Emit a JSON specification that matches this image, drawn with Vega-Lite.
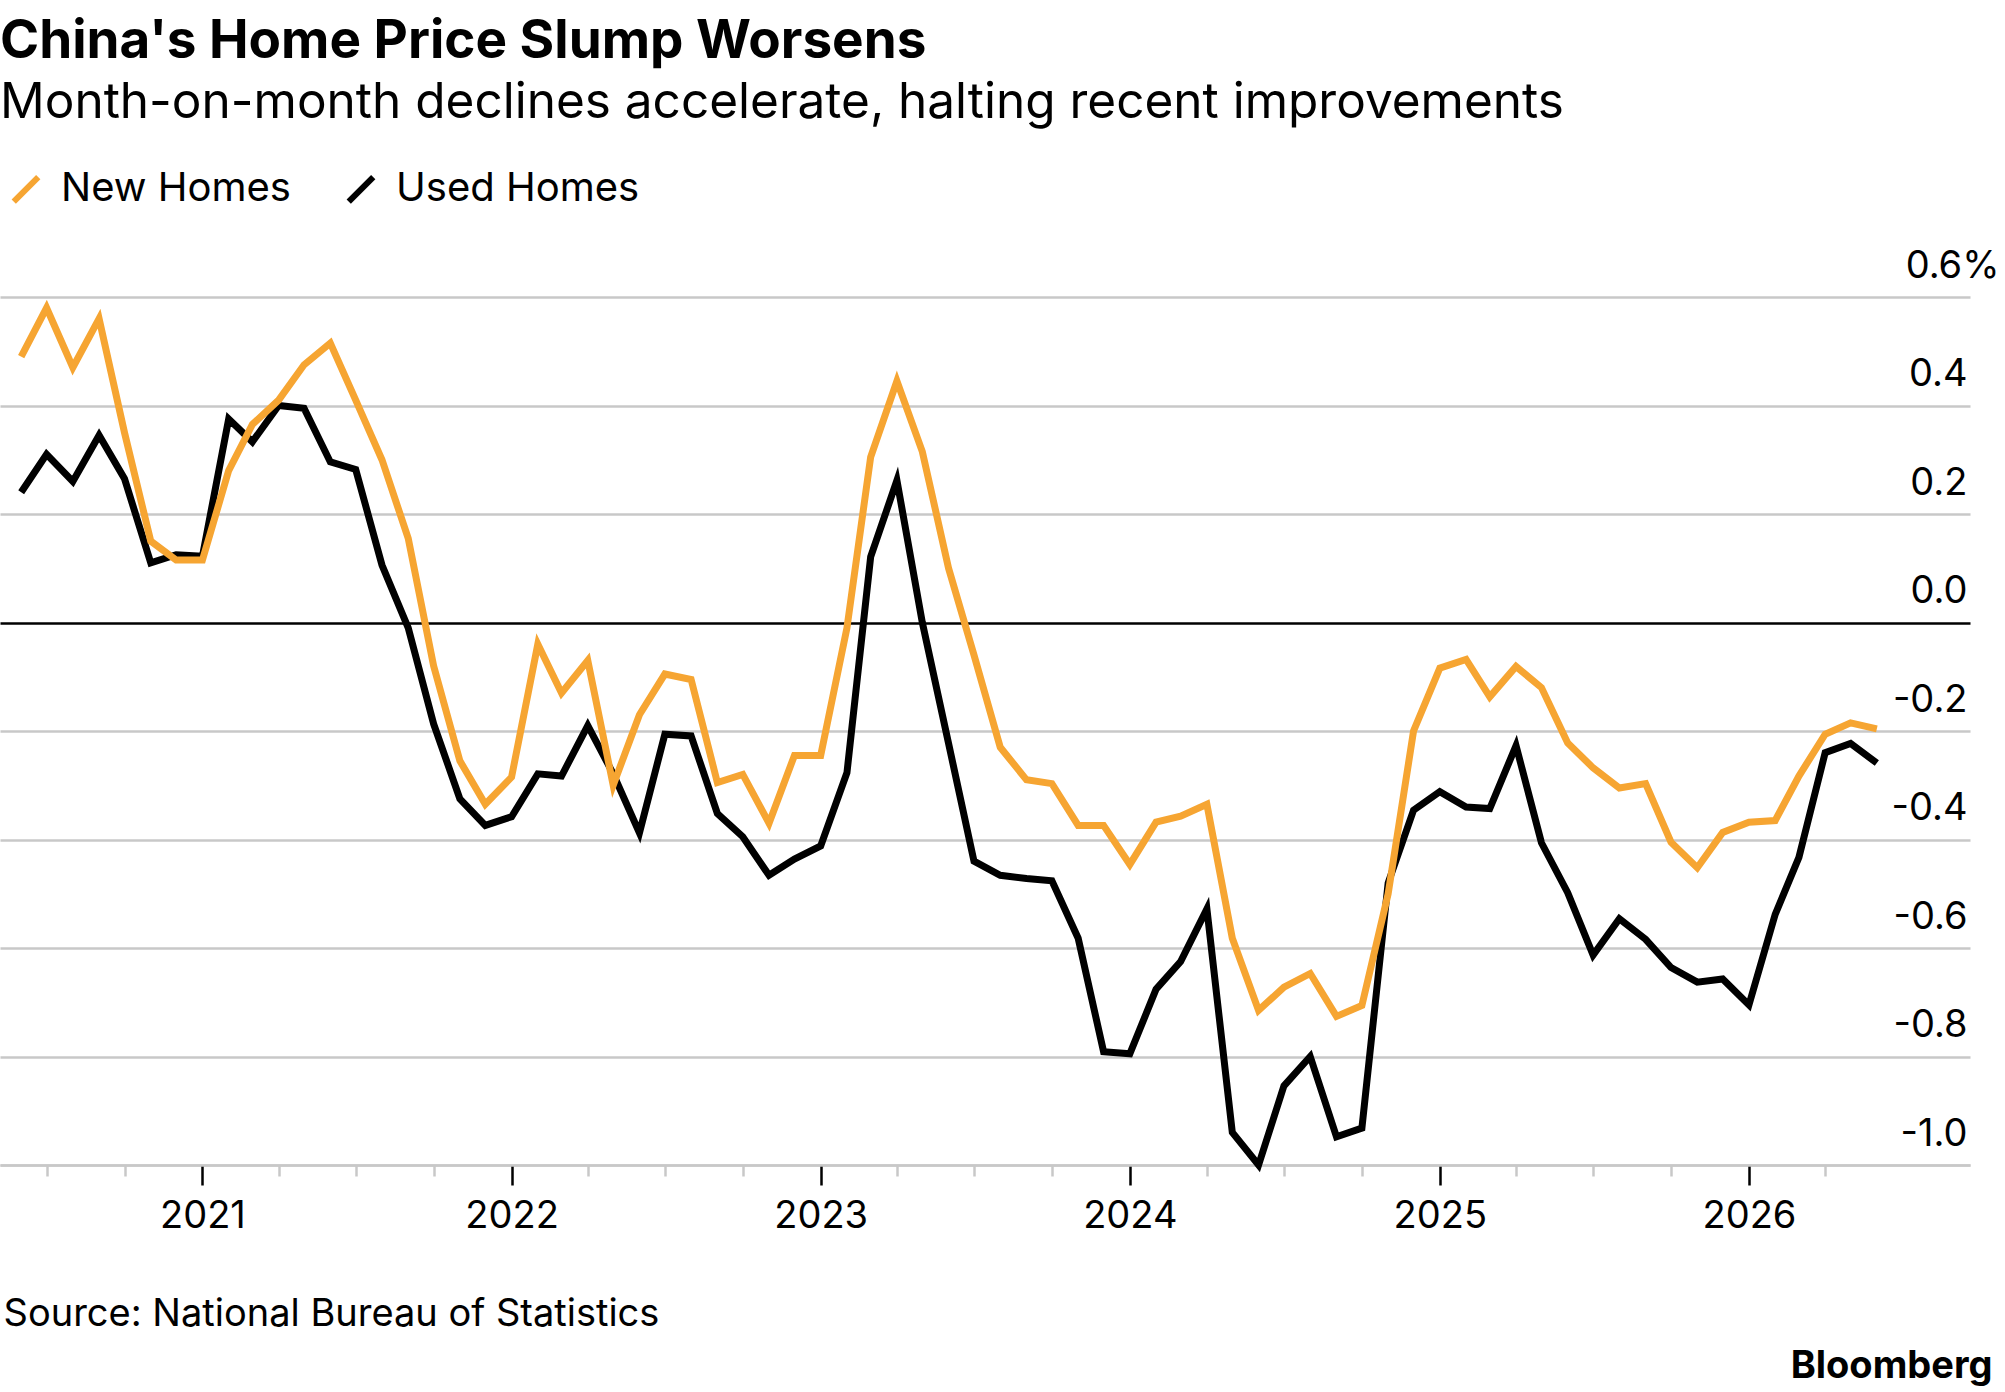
{
  "$schema": "https://vega.github.io/schema/vega-lite/v6.json",
  "width": 1970,
  "height": 868,
  "autosize": {"type": "none"},
  "padding": {"left": 0, "top": 297, "right": 35, "bottom": 227},
  "background": "white",
  "config": {
    "font": "Inter",
    "view": {"stroke": null}
  },
  "title": {
    "text": "China's Home Price Slump Worsens",
    "subtitle": "Month-on-month declines accelerate, halting recent improvements",
    "anchor": "start",
    "frame": "group",
    "orient": "top",
    "offset": 42,
    "fontSize": 53,
    "fontWeight": "bold",
    "color": "#000000",
    "subtitleFontSize": 49.5,
    "subtitleColor": "#000000",
    "subtitlePadding": 10
  },
  "data": {
    "values": [
      {"date": "2020-06-01", "new": 0.49, "used": 0.24},
      {"date": "2020-07-01", "new": 0.58, "used": 0.31},
      {"date": "2020-08-01", "new": 0.47, "used": 0.26},
      {"date": "2020-09-01", "new": 0.56, "used": 0.345},
      {"date": "2020-10-01", "new": 0.35, "used": 0.265},
      {"date": "2020-11-01", "new": 0.15, "used": 0.11},
      {"date": "2020-12-01", "new": 0.115, "used": 0.125},
      {"date": "2021-01-01", "new": 0.115, "used": 0.122},
      {"date": "2021-02-01", "new": 0.28, "used": 0.375},
      {"date": "2021-03-01", "new": 0.365, "used": 0.333},
      {"date": "2021-04-01", "new": 0.41, "used": 0.4},
      {"date": "2021-05-01", "new": 0.475, "used": 0.395},
      {"date": "2021-06-01", "new": 0.515, "used": 0.296},
      {"date": "2021-07-01", "new": 0.41, "used": 0.282},
      {"date": "2021-08-01", "new": 0.3, "used": 0.106},
      {"date": "2021-09-01", "new": 0.155, "used": -0.01},
      {"date": "2021-10-01", "new": -0.08, "used": -0.187},
      {"date": "2021-11-01", "new": -0.255, "used": -0.325},
      {"date": "2021-12-01", "new": -0.335, "used": -0.374},
      {"date": "2022-01-01", "new": -0.285, "used": -0.358},
      {"date": "2022-02-01", "new": -0.04, "used": -0.279},
      {"date": "2022-03-01", "new": -0.13, "used": -0.283},
      {"date": "2022-04-01", "new": -0.07, "used": -0.19},
      {"date": "2022-05-01", "new": -0.3, "used": -0.279},
      {"date": "2022-06-01", "new": -0.17, "used": -0.388},
      {"date": "2022-07-01", "new": -0.095, "used": -0.206},
      {"date": "2022-08-01", "new": -0.105, "used": -0.209},
      {"date": "2022-09-01", "new": -0.295, "used": -0.352},
      {"date": "2022-10-01", "new": -0.28, "used": -0.395},
      {"date": "2022-11-01", "new": -0.37, "used": -0.466},
      {"date": "2022-12-01", "new": -0.245, "used": -0.436},
      {"date": "2023-01-01", "new": -0.245, "used": -0.412},
      {"date": "2023-02-01", "new": -0.01, "used": -0.277},
      {"date": "2023-03-01", "new": 0.305, "used": 0.121},
      {"date": "2023-04-01", "new": 0.445, "used": 0.262},
      {"date": "2023-05-01", "new": 0.315, "used": 0.0},
      {"date": "2023-06-01", "new": 0.1, "used": -0.223},
      {"date": "2023-07-01", "new": -0.06, "used": -0.44},
      {"date": "2023-08-01", "new": -0.23, "used": -0.466},
      {"date": "2023-09-01", "new": -0.29, "used": -0.472},
      {"date": "2023-10-01", "new": -0.297, "used": -0.476},
      {"date": "2023-11-01", "new": -0.374, "used": -0.582},
      {"date": "2023-12-01", "new": -0.374, "used": -0.791},
      {"date": "2024-01-01", "new": -0.446, "used": -0.795},
      {"date": "2024-02-01", "new": -0.368, "used": -0.676},
      {"date": "2024-03-01", "new": -0.357, "used": -0.625},
      {"date": "2024-04-01", "new": -0.335, "used": -0.528},
      {"date": "2024-05-01", "new": -0.582, "used": -0.94},
      {"date": "2024-06-01", "new": -0.715, "used": -1.0},
      {"date": "2024-07-01", "new": -0.672, "used": -0.854},
      {"date": "2024-08-01", "new": -0.647, "used": -0.8},
      {"date": "2024-09-01", "new": -0.726, "used": -0.948},
      {"date": "2024-10-01", "new": -0.706, "used": -0.932},
      {"date": "2024-11-01", "new": -0.5, "used": -0.48},
      {"date": "2024-12-01", "new": -0.2, "used": -0.346},
      {"date": "2025-01-01", "new": -0.084, "used": -0.312},
      {"date": "2025-02-01", "new": -0.068, "used": -0.34},
      {"date": "2025-03-01", "new": -0.137, "used": -0.343},
      {"date": "2025-04-01", "new": -0.081, "used": -0.227},
      {"date": "2025-05-01", "new": -0.12, "used": -0.406},
      {"date": "2025-06-01", "new": -0.222, "used": -0.498},
      {"date": "2025-07-01", "new": -0.268, "used": -0.613},
      {"date": "2025-08-01", "new": -0.305, "used": -0.546},
      {"date": "2025-09-01", "new": -0.297, "used": -0.584},
      {"date": "2025-10-01", "new": -0.405, "used": -0.636},
      {"date": "2025-11-01", "new": -0.452, "used": -0.663},
      {"date": "2025-12-01", "new": -0.387, "used": -0.657},
      {"date": "2026-01-01", "new": -0.368, "used": -0.705},
      {"date": "2026-02-01", "new": -0.365, "used": -0.538},
      {"date": "2026-03-01", "new": -0.283, "used": -0.433},
      {"date": "2026-04-01", "new": -0.206, "used": -0.24},
      {"date": "2026-05-01", "new": -0.185, "used": -0.223},
      {"date": "2026-06-01", "new": -0.196, "used": -0.259}
    ]
  },
  "transform": [
    {"fold": ["used", "new"], "as": ["key", "value"]},
    {"lookup": "key", "from": {"data": {"values": [{"key": "new", "series": "New Homes"}, {"key": "used", "series": "Used Homes"}]}, "key": "key", "fields": ["series"]}}
  ],
  "encoding": {
    "x": {
      "field": "date",
      "type": "temporal",
      "scale": {
        "type": "utc",
        "domain": [
          {"year": 2020, "month": 5, "date": 7, "utc": true},
          {"year": 2026, "month": 9, "date": 19, "utc": true}
        ]
      },
      "axis": {
        "values": [
          {"year": 2020, "month": 7, "date": 1, "utc": true},
          {"year": 2020, "month": 10, "date": 1, "utc": true},
          {"year": 2021, "month": 1, "date": 1, "utc": true},
          {"year": 2021, "month": 4, "date": 1, "utc": true},
          {"year": 2021, "month": 7, "date": 1, "utc": true},
          {"year": 2021, "month": 10, "date": 1, "utc": true},
          {"year": 2022, "month": 1, "date": 1, "utc": true},
          {"year": 2022, "month": 4, "date": 1, "utc": true},
          {"year": 2022, "month": 7, "date": 1, "utc": true},
          {"year": 2022, "month": 10, "date": 1, "utc": true},
          {"year": 2023, "month": 1, "date": 1, "utc": true},
          {"year": 2023, "month": 4, "date": 1, "utc": true},
          {"year": 2023, "month": 7, "date": 1, "utc": true},
          {"year": 2023, "month": 10, "date": 1, "utc": true},
          {"year": 2024, "month": 1, "date": 1, "utc": true},
          {"year": 2024, "month": 4, "date": 1, "utc": true},
          {"year": 2024, "month": 7, "date": 1, "utc": true},
          {"year": 2024, "month": 10, "date": 1, "utc": true},
          {"year": 2025, "month": 1, "date": 1, "utc": true},
          {"year": 2025, "month": 4, "date": 1, "utc": true},
          {"year": 2025, "month": 7, "date": 1, "utc": true},
          {"year": 2025, "month": 10, "date": 1, "utc": true},
          {"year": 2026, "month": 1, "date": 1, "utc": true},
          {"year": 2026, "month": 4, "date": 1, "utc": true}
        ],
        "labelExpr": "utcmonth(datum.value) == 0 ? utcFormat(datum.value, '%Y') : ''",
        "labelFontSize": 38,
        "labelColor": "#000000",
        "labelPadding": 12,
        "labelOverlap": false,
        "labelFlush": false,
        "grid": false,
        "domainColor": "#c8c8c8",
        "domainWidth": 2.5,
        "tickColor": {"condition": {"test": "utcmonth(datum.value) == 0", "value": "#000000"}, "value": "#c8c8c8"},
        "tickSize": {"condition": {"test": "utcmonth(datum.value) == 0", "value": 20}, "value": 11},
        "tickWidth": 2.5,
        "title": "Source: National Bureau of Statistics",
        "titleFontSize": 38,
        "titleFontWeight": "normal",
        "titleColor": "#000000",
        "titleAnchor": "start",
        "titleAlign": "left",
        "titleBaseline": "alphabetic",
        "titleX": 3,
        "titleY": 160
      }
    },
    "y": {
      "field": "value",
      "type": "quantitative",
      "scale": {"domain": [-1, 0.6], "nice": false, "zero": false},
      "axis": {
        "orient": "right",
        "values": [-1, -0.8, -0.6, -0.4, -0.2, 0, 0.2, 0.4, 0.6],
        "labelExpr": "datum.value > 0.55 ? '0.6%' : replace(format(datum.value, '.1f'), '\u2212', '-')",
        "labelAlign": "right",
        "labelBaseline": "alphabetic",
        "labelOffset": -20,
        "labelPadding": {"condition": {"test": "datum.value > 0.55", "value": 29}, "value": -3},
        "labelFontSize": 38,
        "labelColor": "#000000",
        "ticks": false,
        "domain": false,
        "grid": true,
        "gridColor": {"condition": {"test": "datum.value == 0", "value": "#000000"}, "value": "#c8c8c8"},
        "gridWidth": 2.5,
        "title": "Bloomberg",
        "titleAngle": 0,
        "titleFontSize": 38,
        "titleFontWeight": "bold",
        "titleColor": "#000000",
        "titleAlign": "right",
        "titleBaseline": "alphabetic",
        "titleX": 22,
        "titleY": 1080
      }
    },
    "color": {
      "field": "series",
      "type": "nominal",
      "scale": {"domain": ["New Homes", "Used Homes"], "range": ["#f6a532", "#000000"]},
      "legend": {
        "title": null,
        "orient": "none",
        "direction": "horizontal",
        "legendX": 6,
        "legendY": -128,
        "symbolType": "M-1,1L1,-1",
        "symbolSize": 600,
        "symbolStrokeWidth": 6,
        "labelFontSize": 40,
        "labelColor": "#000000",
        "labelLimit": 500,
        "labelOffset": 15,
        "columnPadding": 45,
        "padding": 0
      }
    }
  },
  "layer": [
    {
      "transform": [{"filter": "datum.series == 'Used Homes'"}],
      "mark": {"type": "line", "strokeWidth": 7, "strokeJoin": "miter", "strokeCap": "butt"}
    },
    {
      "transform": [{"filter": "datum.series == 'New Homes'"}],
      "mark": {"type": "line", "strokeWidth": 7, "strokeJoin": "miter", "strokeCap": "butt"}
    }
  ]
}
